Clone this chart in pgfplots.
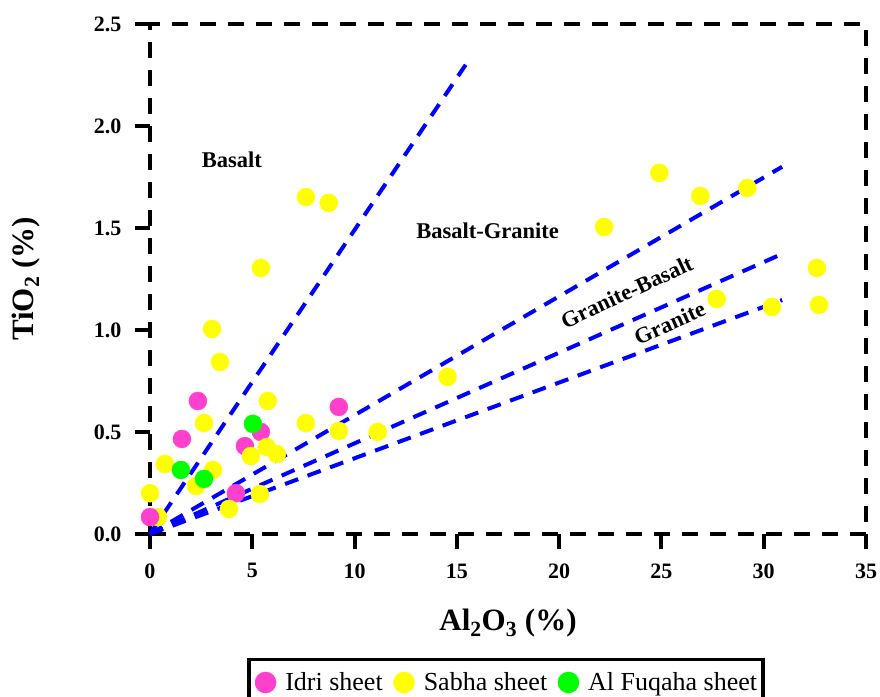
\documentclass[border=0pt]{standalone}
\usepackage{fontspec}
\setmainfont{Liberation Serif}
\usepackage{pgfplots}
\pgfplotsset{compat=1.18}
\definecolor{idri}{RGB}{255,64,204}
\definecolor{sabha}{RGB}{255,255,0}
\definecolor{fuqaha}{RGB}{0,255,0}
\begin{document}
\begin{tikzpicture}
\begin{axis}[
  at={(0pt,0pt)}, anchor=south west,
  scale only axis, width=716pt, height=510pt,
  xmin=0, xmax=35, ymin=0, ymax=2.5,
  clip=false,
  xtick={0,5,10,15,20,25,30,35},
  ytick={0,0.5,1,1.5,2,2.5},
  /pgf/number format/assume math mode=true,
  tick label style={font=\fontsize{22}{26}\selectfont\bfseries},
  xticklabel style={yshift=-11pt},
  yticklabel style={xshift=-10pt, /pgf/number format/.cd, fixed, fixed zerofill, precision=1},
  tick align=outside, major tick length=15pt,
  xtick pos=bottom, ytick pos=left,
  major tick style={black, line width=4pt},
  axis line style={black, line width=4.5pt, dash pattern=on 16pt off 12pt},
  xlabel={Al\textsubscript{2}O\textsubscript{3} (\%)},
  ylabel={TiO\textsubscript{2} (\%)},
  label style={font=\fontsize{31}{36}\selectfont\bfseries},
  xlabel style={at={(axis description cs:0.5,-0.190)}, anchor=base},
  ylabel style={at={(axis description cs:-0.163,0.5)}, anchor=base, rotate=0},
  legend columns=3,
  legend style={at={(axis description cs:0.4972,-0.2431)}, anchor=north,
    draw=black, line width=3.5pt, fill=white,
    font=\fontsize{26}{30}\selectfont,
    inner xsep=6pt, inner ysep=12pt,
    nodes={inner xsep=0pt, inner ysep=0pt},
    /tikz/every odd column/.append style={column sep=9pt},
    /tikz/every even column/.append style={column sep=10.5pt}},
  legend image code/.code={\path (-9pt,-9pt) (9pt,9pt); \draw[#1] plot coordinates {(0pt,0pt)};},
]
% boundary lines
\addplot[blue, line width=4pt, dash pattern=on 14pt off 10pt, forget plot] coordinates {(0,0) (15.43,2.30)};
\addplot[blue, line width=4pt, dash pattern=on 14pt off 10pt, forget plot] coordinates {(0,0) (30.9,1.80)};
\addplot[blue, line width=4pt, dash pattern=on 14pt off 10pt, forget plot] coordinates {(0,0) (31.1,1.382)};
\addplot[blue, line width=4pt, dash pattern=on 14pt off 10pt, forget plot] coordinates {(0,0) (30.9,1.147)};
% Idri sheet
\addplot[only marks, mark=*, mark size=9pt, mark options={draw=none, fill=idri}, color=idri] coordinates {
(1.56,0.466) (2.34,0.652) (4.64,0.431) (5.42,0.50) (4.2,0.20) (9.23,0.623)
};
\addlegendentry{Idri sheet}
% Sabha sheet
\addplot[only marks, mark=*, mark size=9pt, mark options={draw=none, fill=sabha}, color=sabha] coordinates {
(0,0.20) (0.39,0.083) (0.73,0.343) (2.25,0.235) (2.64,0.544) (3.08,0.314)
(3.86,0.123) (4.93,0.382) (5.71,0.426) (6.2,0.392) (5.76,0.652) (5.37,0.196)
(7.62,0.544) (9.23,0.505) (11.13,0.50) (14.55,0.77) (7.62,1.652) (8.74,1.623)
(5.42,1.304) (3.03,1.005) (3.42,0.843) (24.9,1.77) (26.9,1.657) (29.2,1.696)
(22.2,1.505) (32.6,1.304) (27.7,1.152) (30.4,1.113) (32.7,1.123)
};
\addlegendentry{Sabha sheet}
% Al Fuqaha sheet
\addplot[only marks, mark=*, mark size=9pt, mark options={draw=none, fill=fuqaha}, color=fuqaha] coordinates {
(1.51,0.314) (2.64,0.27) (5.03,0.54)
};
\addlegendentry{Al Fuqaha sheet}
\addplot[only marks, mark=*, mark size=9pt, mark options={draw=none, fill=idri}, color=idri, forget plot] coordinates {(0,0.083)};
% labels
\node[font=\fontsize{22.5}{26}\selectfont\bfseries] at (axis cs:4.0,1.833) {Basalt};
\node[font=\fontsize{22.5}{26}\selectfont\bfseries] at (axis cs:16.5,1.485) {Basalt-Granite};
\node[font=\fontsize{22.5}{26}\selectfont\bfseries, rotate=25] at (axis cs:23.3,1.186) {Granite-Basalt};
\node[font=\fontsize{22.5}{26}\selectfont\bfseries, rotate=24] at (axis cs:25.4,1.034) {Granite};
\end{axis}
\pgfresetboundingbox
\path (-150pt,-162pt) rectangle (730pt,534pt);
\end{tikzpicture}
\end{document}
